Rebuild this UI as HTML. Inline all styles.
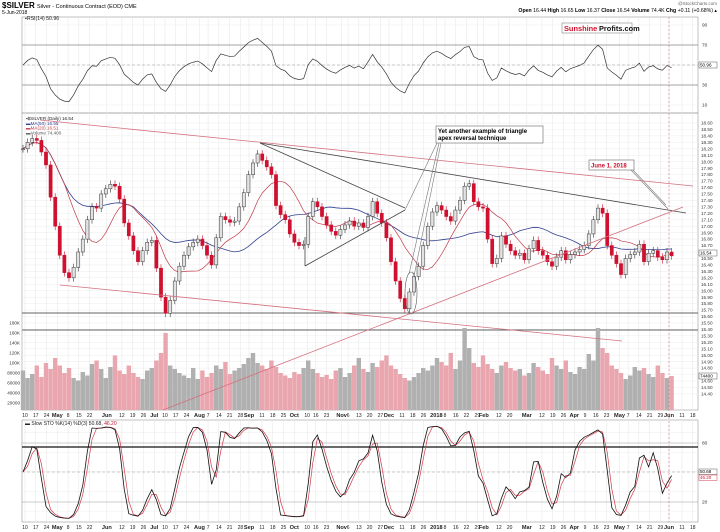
<!DOCTYPE html>
<html><head><meta charset="utf-8"><style>
html,body{margin:0;padding:0;background:#fff}
svg{display:block;font-family:"Liberation Sans",sans-serif}
</style></head><body>
<svg id="chart" width="720" height="532" viewBox="0 0 720 532" xmlns="http://www.w3.org/2000/svg">
<rect width="720" height="532" fill="#fff"/>
<g id="grid"></g>
<g id="header">
<text x="2" y="8" font-size="8" font-weight="bold">$SILVER <tspan font-size="5.5" font-weight="normal">Silver - Continuous Contract (EOD) CME</tspan></text>
<text x="2" y="14" font-size="5">5-Jun-2018</text>
<text x="717" y="5" font-size="4.5" fill="#666" text-anchor="end">@StockCharts.com</text>
<text x="717" y="12" font-size="5.2" text-anchor="end"><tspan font-weight="bold">Open</tspan> 16.44 <tspan font-weight="bold">High</tspan> 16.65 <tspan font-weight="bold">Low</tspan> 16.37 <tspan font-weight="bold">Close</tspan> 16.54 <tspan font-weight="bold">Volume</tspan> 74.4K <tspan font-weight="bold">Chg</tspan> +0.11 (+0.68%) ▴</text>
</g>
<g id="rsi"></g>
<g id="price"></g>
<g id="sto"></g>
<g id="annot"></g>
</svg>
<script>
const closes=[18.20,18.30,18.36,18.33,18.15,17.95,17.45,17.00,16.55,16.28,
16.20,16.36,16.60,16.80,17.10,17.30,17.28,17.50,17.58,17.65,
17.62,17.42,17.05,16.85,16.62,16.45,16.62,16.75,16.78,16.35,
15.90,15.65,15.85,16.15,16.38,16.55,16.68,16.75,16.80,16.70,
16.55,16.40,16.82,17.15,17.10,17.06,17.08,17.30,17.52,17.80,
17.98,18.12,18.02,17.92,17.80,17.32,17.18,17.10,16.88,16.75,
16.70,16.72,17.15,17.38,17.30,17.15,17.02,16.92,16.86,16.95,
17.02,17.08,17.00,17.05,16.98,17.15,17.38,17.20,17.05,16.82,
16.45,16.15,15.88,15.72,15.98,16.22,16.38,16.70,17.00,17.22,
17.32,17.25,17.15,17.08,17.25,17.40,17.62,17.66,17.38,17.30,
17.28,16.80,16.42,16.50,16.85,16.72,16.62,16.55,16.58,16.48,
16.65,16.78,16.62,16.55,16.45,16.38,16.52,16.62,16.48,16.56,
16.60,16.64,16.70,16.88,17.10,17.28,17.20,16.70,16.55,16.42,
16.25,16.50,16.56,16.60,16.72,16.45,16.58,16.62,16.52,16.48,
16.60,16.54];
const volumesK=[85,70,78,95,72,100,88,110,95,80,90,70,65,82,75,98,105,88,70,92,
115,85,78,95,80,72,68,85,90,105,120,160,95,88,80,75,70,90,68,85,
72,80,95,88,102,78,85,90,98,110,120,100,95,88,105,92,80,75,70,82,
78,90,105,88,80,72,76,68,85,90,72,80,95,110,88,82,100,92,105,115,
95,88,78,70,65,72,80,90,85,95,110,102,95,120,88,105,170,130,100,92,
115,98,88,80,95,102,90,85,88,75,80,100,92,85,78,110,95,88,105,82,
78,92,88,118,105,170,130,120,95,88,80,68,75,92,85,90,78,72,95,80,70,74];
const dateLabels=["10","17","24","May","8","15","22","Jun","12","19","26","Jul","10","17","24","Aug","7","14","21","28","Sep","11","18","25","Oct","10","16","23","Nov","6","13","20","27","Dec","11","18","26","2018","8","16","22","29","Feb","12","20","Mar","12","19","26","Apr","9","16","23","May","7","14","21","29","Jun","11","18"];
const dateWeeks=[0,1,2,3,4,5,6,7,9,10,11,12,13,14,15,16,17,18,19,20,20,22,23,24,25,26,27,28,29,30,31,32,33,33,35,36,37,38,39,40,41,42,42,44,45,46,48,49,50,51,52,53,54,55,56,57,58,59,59,61,62];
const dateDays=[0,0,0,0,0,0,0,3,0,0,0,0,0,0,0,1,0,0,0,0,4,0,0,0,0,1,0,0,2,0,0,0,0,4,0,0,0,1,0,0,0,0,3,0,0,3,0,0,0,0,0,0,0,1,0,0,0,0,4,0,0];
const priceTicks=[];for(let t=186;t>=144;t--)priceTicks.push(t/10);
const volTicks=[20000,40000,60000,80000,100000,120000,140000,160000,180000];
const volTickText=["20000","40000","60000","80000","100K","120K","140K","160K","180K"];
const rsiTicks=[90,70,50,30,10];
const stoTicks=[80,20];

const NS="http://www.w3.org/2000/svg";
const L=22,R=698;
function el(tag,attrs,parent,txt){const e=document.createElementNS(NS,tag);for(const k in attrs)e.setAttribute(k,attrs[k]);if(txt!==undefined)e.textContent=txt;parent.appendChild(e);return e;}
const xBar=i=>23+i*4.6;
const yP=p=>123+(18.60-p)*64.5;
const yV=v=>413-v/2000;
const yR=r=>65-(r-50);
const yS=s=>521-s*0.983;
const xDate=(w,d)=>25+10.77*w+2.15*d;

const grid=document.getElementById('grid');
[[17,113],[113,410],[420,522]].forEach((p,k)=>{
 const r=el('rect',{x:L,y:p[0],width:R-L,height:p[1]-p[0],fill:'none',stroke:'#999','stroke-width':0.6},grid);
 
 
});
priceTicks.forEach(t=>{
 const y=yP(t);
 el('line',{x1:L,x2:R,y1:y,y2:y,stroke:'#ececec','stroke-width':0.5},grid);
 const tx=el('text',{x:701,y:y+1.6,'font-size':4.6,fill:'#333'},grid,t.toFixed(2));
 
 
});
volTicks.forEach((v,k)=>{
 const tx=el('text',{x:20,y:yV(v)+1.6,'font-size':4.6,fill:'#333','text-anchor':'end'},grid,volTickText[k]);
 
 
});
[10,30,50,70,90].forEach(t=>el('line',{x1:L,x2:R,y1:yR(t),y2:yR(t),stroke:'#ececec','stroke-width':0.5},grid));
[10,30,50,70,90].forEach(t=>el('line',{x1:L,x2:R,y1:yS(t),y2:yS(t),stroke:'#ececec','stroke-width':0.5},grid));
dateLabels.forEach((lab,k)=>{
 const x=xDate(dateWeeks[k],dateDays[k]);
 el('line',{x1:x,x2:x,y1:17,y2:410,stroke:'#e4e4e4','stroke-width':0.5},grid);
 el('line',{x1:x,x2:x,y1:420,y2:522,stroke:'#e4e4e4','stroke-width':0.5},grid);
 const bold=isNaN(+lab)||lab==="2018";
 [417,529].forEach(yy=>{
  const tx=el('text',{x:x,y:yy,'font-size':bold?5.6:5,'font-weight':bold?'bold':'normal','text-anchor':'middle',fill:'#222'},grid,lab);
  
  
 });
});

// RSI
const rsiG=document.getElementById('rsi');
const rsi=[];let ag=0.05,al=0.05;const P=11;
for(let i=0;i<closes.length;i++){
 if(i>0){const d=closes[i]-closes[i-1];ag=(ag*(P-1)+Math.max(d,0))/P;al=(al*(P-1)+Math.max(-d,0))/P;}
 rsi.push(100-100/(1+ag/al));
}
rsiTicks.forEach(t=>{
 const tx=el('text',{x:702,y:yR(t)+1.6,'font-size':4.8,fill:'#333'},rsiG,String(t));
 
 
});
[70,30].forEach(t=>el('line',{x1:L,x2:R,y1:yR(t),y2:yR(t),stroke:'#888','stroke-width':0.7},rsiG));
el('line',{x1:L,x2:R,y1:yR(50),y2:yR(50),stroke:'#999','stroke-width':0.6,'stroke-dasharray':'3,2'},rsiG);
const rsiLine=el('polyline',{points:rsi.map((v,i)=>xBar(i)+','+yR(v)).join(' '),fill:'none',stroke:'#333','stroke-width':0.7},rsiG);


const rl=el('text',{x:25,y:20,'font-size':5.2,fill:'#222'},rsiG,'▪RSI(14) 50.96');


el('rect',{x:699,y:62,width:18,height:6,fill:'#fff',stroke:'#333','stroke-width':0.4},rsiG);
el('text',{x:700,y:66.6,'font-size':4.6},rsiG,'50.96');
const logo=el('g',{},rsiG);


el('rect',{x:562,y:23,width:70,height:10,fill:'#fff',stroke:'#888','stroke-width':0.6},logo);
el('text',{x:564,y:31,'font-size':7.4,'font-weight':'bold',fill:'#d0102a'},logo,'Sunshine');
el('text',{x:599,y:31,'font-size':7.4,'font-weight':'bold',fill:'#111'},logo,'Profits.com');

// Price panel
const pg=document.getElementById('price');
el('line',{x1:L,x2:R,y1:313,y2:313,stroke:'#333','stroke-width':0.7},pg);
el('line',{x1:L,x2:R,y1:330,y2:330,stroke:'#333','stroke-width':0.7},pg);
volumesK.forEach((v,i)=>{
 const up=i===0||closes[i]>=closes[i-1];
 const b=el('rect',{x:xBar(i)-2.2,y:yV(v*1000),width:4.4,height:413-yV(v*1000)-3,fill:up?'#b0b0b0':'#eaa6ae'},pg);
 
 
});
function ma(n){return closes.map((c,i)=>{const s=closes.slice(Math.max(0,i-n+1),i+1);return s.reduce((a,b)=>a+b,0)/s.length;});}
const ma50=ma(25),ma20=ma(10);
const m50=el('polyline',{points:ma50.map((v,i)=>xBar(i)+','+yP(v)).join(' '),fill:'none',stroke:'#34408f','stroke-width':0.8},pg);


const m20=el('polyline',{points:ma20.map((v,i)=>xBar(i)+','+yP(v)).join(' '),fill:'none',stroke:'#c23a4a','stroke-width':0.7},pg);


closes.forEach((c,i)=>{
 const o=i===0?c:closes[i-1];
 const hi=Math.max(o,c)+0.06,lo=Math.min(o,c)-0.06;
 const up=c>=o;const x=xBar(i);
 const g=el('g',{},pg);
 
 
 el('line',{x1:x,x2:x,y1:yP(hi),y2:yP(lo),stroke:up?'#333':'#c8102e','stroke-width':0.6},g);
 const top=yP(Math.max(o,c)),h=Math.max(1,yP(Math.min(o,c))-top);
 el('rect',{x:x-1.6,y:top,width:3.2,height:h,fill:up?'#e2e2e2':'#d0102e',stroke:up?'#333':'#c8102e','stroke-width':0.5},g);
});
const leg=[['$SILVER (Daily) 16.54','#222'],['MA(50) 16.55','#34408f'],['MA(20) 16.51','#c23a4a'],['Volume 74,400','#555']];
leg.forEach((l,k)=>{
 const t=el('text',{x:26,y:120+k*4.8,'font-size':4.6,fill:l[1]},pg,(k===0?'▪':'▬')+l[0]);
 
 
});
el('rect',{x:699,y:250,width:18,height:6,fill:'#fff',stroke:'#333','stroke-width':0.4},pg);
el('text',{x:700,y:254.6,'font-size':4.6},pg,'16.54');
el('rect',{x:699,y:373,width:18,height:6,fill:'#fff',stroke:'#333','stroke-width':0.4},pg);
el('text',{x:700,y:377.6,'font-size':4.6},pg,'74400');

// STO
const sg=document.getElementById('sto');
const hi=closes.map((c,i)=>Math.max(c,i?closes[i-1]:c)+0.06),lo=closes.map((c,i)=>Math.min(c,i?closes[i-1]:c)-0.06);
const fk=closes.map((c,i)=>{const s=Math.max(0,i-6);const hh=Math.max(...hi.slice(s,i+1)),ll=Math.min(...lo.slice(s,i+1));return 100*(c-ll)/(hh-ll);});
const sma=(a,n)=>a.map((v,i)=>{const s=a.slice(Math.max(0,i-n+1),i+1);return s.reduce((x,y)=>x+y,0)/s.length;});
const kS=sma(fk,2),dS=sma(kS,2);
el('line',{x1:L,x2:R,y1:443,y2:443,stroke:'#999','stroke-width':0.6},sg);
el('line',{x1:L,x2:R,y1:447,y2:447,stroke:'#111','stroke-width':1.3},sg);
el('line',{x1:L,x2:R,y1:502,y2:502,stroke:'#999','stroke-width':0.6},sg);
el('line',{x1:L,x2:R,y1:472,y2:472,stroke:'#999','stroke-width':0.6,'stroke-dasharray':'3,2'},sg);
stoTicks.forEach(t=>{
 const tx=el('text',{x:702,y:(t===80?443:502)+1.6,'font-size':4.8,fill:'#333'},sg,String(t));
 
 
});
const dl=el('polyline',{points:dS.map((v,i)=>xBar(i)+','+yS(v)).join(' '),fill:'none',stroke:'#d23a4a','stroke-width':0.7},sg);


const kl=el('polyline',{points:kS.map((v,i)=>xBar(i)+','+yS(v)).join(' '),fill:'none',stroke:'#111','stroke-width':0.8},sg);


const sl=el('text',{x:25,y:425,'font-size':5,fill:'#222'},sg);


sl.innerHTML='▬ Slow STO %K(14) %D(3) 50.68, <tspan fill="#d0102a">46.20</tspan>';
el('rect',{x:699,y:469,width:18,height:5.5,fill:'#fff',stroke:'#333','stroke-width':0.4},sg);
el('text',{x:700,y:473.2,'font-size':4.5},sg,'50.68');
el('rect',{x:699,y:475,width:18,height:5.5,fill:'#fff',stroke:'#d0102a','stroke-width':0.4},sg);
el('text',{x:700,y:479.2,'font-size':4.5,fill:'#d0102a'},sg,'46.20');

// Annotations
const an=document.getElementById('annot');
function ln(x1,y1,x2,y2,c,w,name){const l=el('line',{x1,y1,x2,y2,stroke:c,'stroke-width':w},an);return l;}
ln(40,120,693,186,'#d4707e',0.8,'upper-pink-trendline');
ln(260,143,686,213,'#444',0.8,'upper-resistance-line');
ln(260,143,405,208,'#444',0.8,'triangle-upper-line');
ln(305,266,405,210,'#444',0.8,'triangle-lower-line');
ln(305,237,305,266,'#444',0.8,'triangle-left-edge');
ln(60,285,622,341,'#d4707e',0.8,'lower-pink-trendline');
ln(163,410,683,207,'#d4707e',0.8,'rising-support-line');
ln(669,17,669,522,'#e07080',0.6,'june-1-marker-line').setAttribute('stroke-dasharray','2,2');
ln(437,143,405,210,'#777',0.6,'annotation-pointer');
ln(439,143,409,274,'#777',0.6,'annotation-pointer');
ln(441,143,414,276,'#777',0.6,'annotation-pointer');
ln(633,170,666,205,'#777',0.6,'june-pointer');
ln(631,170,668,209,'#777',0.6,'june-pointer');
const ell=el('ellipse',{cx:411,cy:293,rx:6,ry:21,fill:'none',stroke:'#555','stroke-width':0.6},an);


const box=el('g',{},an);


el('rect',{x:436,y:126,width:107,height:17,fill:'#fff',stroke:'#666','stroke-width':0.6},box);
el('text',{x:438,y:133,'font-size':6,'font-weight':'bold'},box,'Yet another example of triangle');
el('text',{x:438,y:140,'font-size':6,'font-weight':'bold'},box,'apex reversal technique');
const jb=el('g',{},an);


el('rect',{x:589,y:160,width:45,height:10,fill:'#fff',stroke:'#666','stroke-width':0.6},jb);
el('text',{x:591,y:167.5,'font-size':6,'font-weight':'bold',fill:'#c8102e'},jb,'June 1, 2018');
</script>
</body></html>
